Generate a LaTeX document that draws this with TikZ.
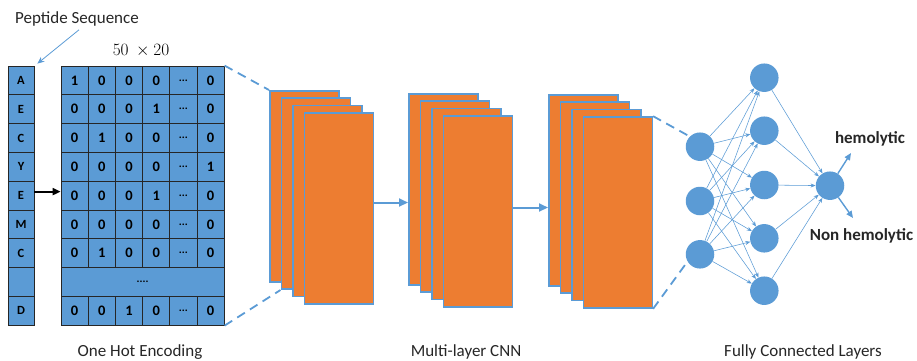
\documentclass[tikz,border=0pt]{standalone}
\usepackage{fontspec}
\setmainfont{Carlito}
\usetikzlibrary{positioning,arrows.meta}

\definecolor{cellblue}{HTML}{5B9BD5}
\definecolor{maporange}{HTML}{ED7D31}
\definecolor{captxt}{HTML}{262626}

\tikzset{
  cell/.style={draw=black!85, line width=0.8pt, fill=cellblue, inner sep=0pt,
    minimum width=27.2, minimum height=28.8, font=\bfseries\fontsize{14.5}{14.5}\selectfont},
  seqcell/.style={cell, minimum width=26, font=\bfseries\fontsize{12.5}{12.5}\selectfont},
  fmap/.style={draw=cellblue, line width=1.6pt, fill=maporange, inner sep=0pt,
    minimum width=69, minimum height=191, anchor=north west},
  neuron/.style={circle, fill=cellblue, minimum size=28.5, inner sep=0pt},
  fcline/.style={cellblue, line width=0.55pt, -{Stealth[length=5pt,width=4pt]}},
  flow/.style={cellblue, line width=2pt, -{Triangle[length=9pt,width=8pt]}},
  zoomline/.style={cellblue, line width=1.8pt, dash pattern=on 9pt off 6pt},
  caption/.style={text=captxt, font=\fontsize{17}{17}\selectfont},
  classlbl/.style={text=captxt, font=\bfseries\fontsize{17}{17}\selectfont}
}

% one row of the one-hot matrix, 9 stands for the dots
\newcommand\ohrow[2]{%
  \foreach \v [count=\c] in {#2}
    \node[cell] (mat-#1-\c) at ({61+27.2*(\c-0.5)},{66+28.8*(#1-0.5)})
      {\ifnum\v=9 {\fontsize{11}{11}\selectfont...}\else\v\fi};}

\begin{document}
\begin{tikzpicture}[x=1pt,y=-1pt]
  \useasboundingbox (0,0) rectangle (917,360);

  % sequence column
  \foreach \a [count=\r] in {A,E,C,Y,E,M,C,{},D}
    \node[seqcell] (seq-\r) at (21,{66+28.8*(\r-0.5)}) {\a};

  % one hot matrix
  \ohrow{1}{1,0,0,0,9,0}
  \ohrow{2}{0,0,0,1,9,0}
  \ohrow{3}{0,1,0,0,9,0}
  \ohrow{4}{0,0,0,0,9,1}
  \ohrow{5}{0,0,0,1,9,0}
  \ohrow{6}{0,0,0,0,9,0}
  \ohrow{7}{0,1,0,0,9,0}
  \node[cell, minimum width=163.2] (mat-8) at (142.6,{66+28.8*7.5})
    {\fontsize{11}{11}\selectfont....};
  \ohrow{9}{0,0,1,0,9,0}

  \node[font=\fontsize{16}{16}\selectfont] (dims) at (141,51) {$50\ \times 20$};
  \node[text=captxt, font=\fontsize{17}{17}\selectfont] (pep) at (77,19) {Peptide Sequence};
  \draw[cellblue, line width=0.8pt, -{Stealth[length=7pt,width=6pt]}]
    ([xshift=2pt]pep.south) -- ([xshift=3pt,yshift=2pt]seq-1.north east);
  \draw[line width=2pt, -{Triangle[length=8pt,width=7pt]}]
    ([yshift=4pt]seq-5.east) -- ([yshift=4pt]seq-5.east -| mat-5-1.west);

  % feature map stacks
  \foreach \s/\x/\y in {1/269/90, 2/408/93, 3/548/94}
    \foreach \k/\n in {0/a,1/b,2/c,3/d}
      \node[fmap] (c\s\n) at ({\x+11.5*\k},{\y+7.4*\k}) {};

  \draw[zoomline] (mat-1-6.north east) -- (c1a.north west);
  \draw[zoomline] (mat-9-6.south east) -- (c1b.south west);
  \draw[flow] ([yshift=6pt]c1d.east) -- ([yshift=6pt]c1d.east -| c2a.west);
  \draw[flow] ([yshift=4pt]c2d.east) -- ([yshift=4pt]c2d.east -| c3a.west);

  % fully connected part
  \foreach \y [count=\i] in {146.7,201,254.3}
    \node[neuron] (in\i) at (700,\y) {};
  \foreach \y [count=\j] in {77.7,130.7,185,238.3,290.7}
    \node[neuron] (hid\j) at (764.3,\y) {};
  \node[neuron] (out) at (830,185.7) {};

  \draw[zoomline] (c3d.north east) -- (in1.north west);
  \draw[zoomline] (c3d.south east) -- (in3.210);

  \foreach \i in {1,2,3}
    \foreach \j in {1,...,5}
      \draw[fcline] (in\i) -- (hid\j);
  \foreach \j in {1,...,5}
    \draw[fcline] (hid\j) -- (out);

  \node[classlbl] (hemo) at (870,139) {hemolytic};
  \node[classlbl] (nonhemo) at (861.5,236) {Non hemolytic};
  \coordinate (hemotip) at (851,153);
  \coordinate (nontip) at (853,218);
  \draw[cellblue, line width=1.4pt, -{Triangle[length=7pt,width=6pt]}] (out) -- (hemotip);
  \draw[cellblue, line width=1.4pt, -{Triangle[length=7pt,width=6pt]}] (out) -- (nontip);

  % captions
  \node[caption] (cap1) at (140,352) {One Hot Encoding};
  \node[caption] (cap2) at (466,352) {Multi-layer CNN};
  \node[caption] (cap3) at (803,352) {Fully Connected Layers};
\end{tikzpicture}
\end{document}
